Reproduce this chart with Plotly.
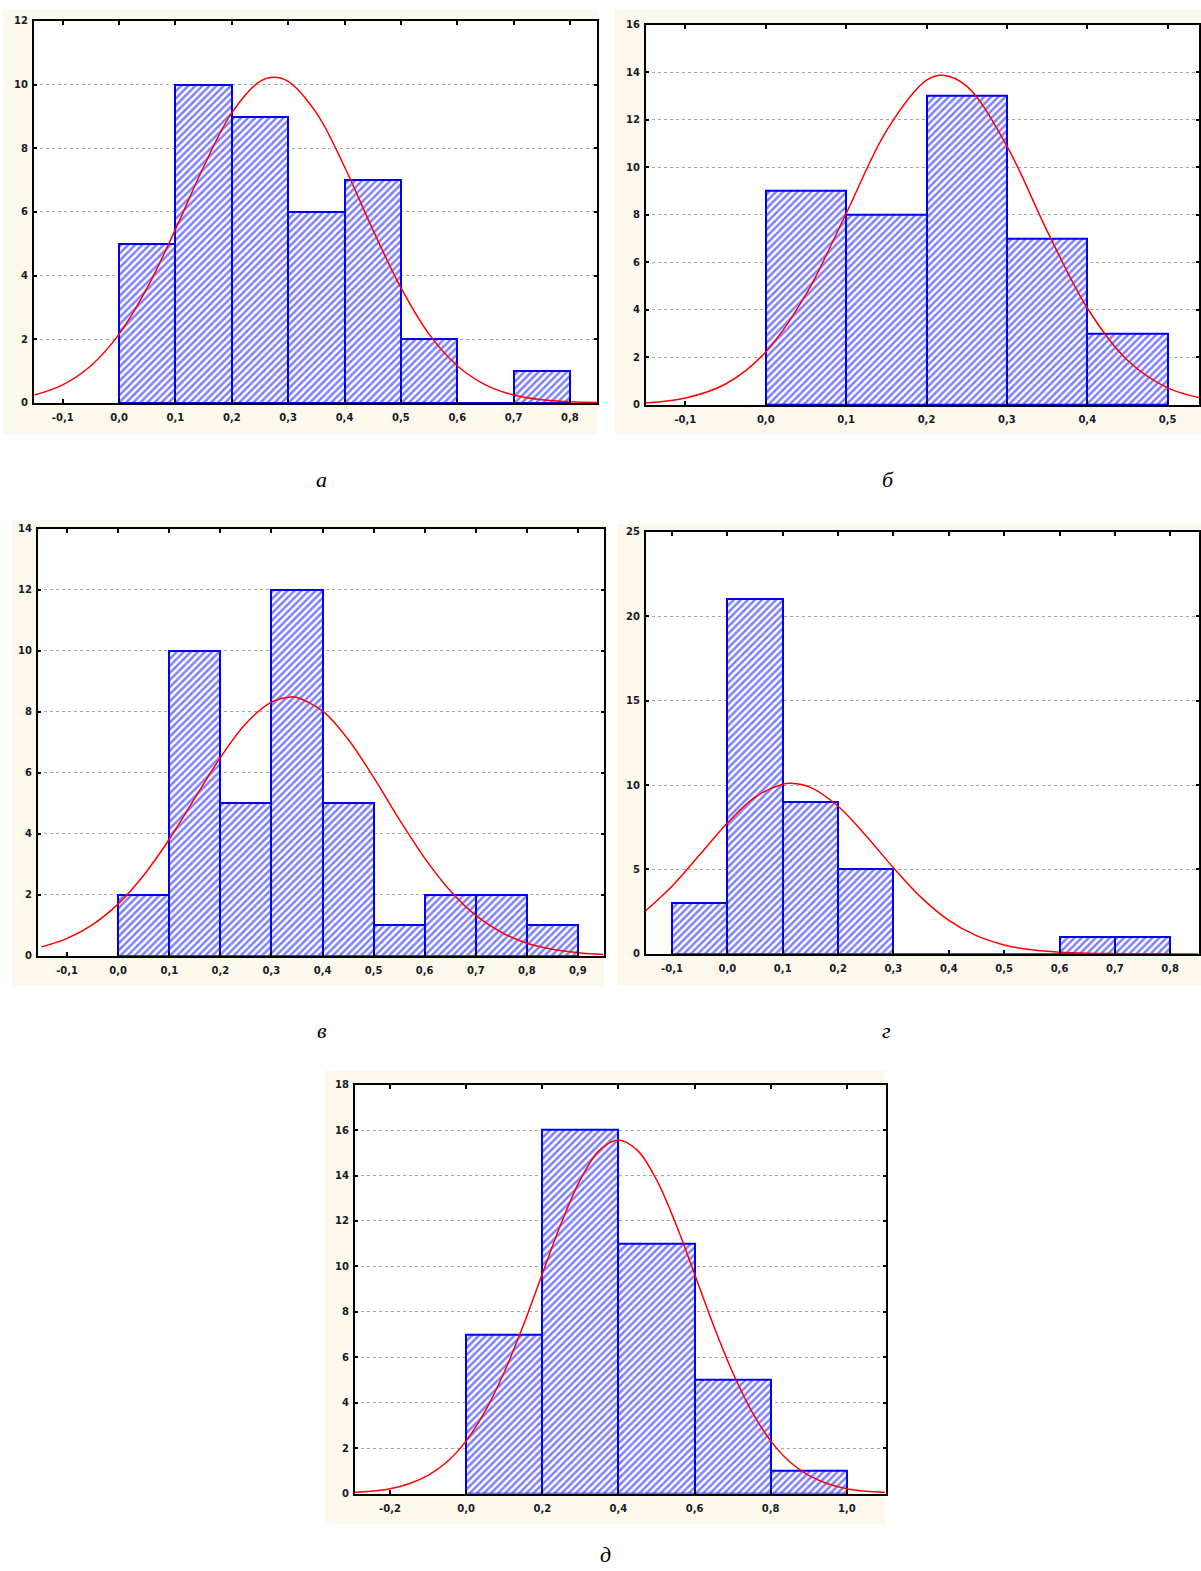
import plotly.graph_objects as go

W, H = 1201, 1571

# ---------------- data ----------------
# panel а
a_centers = [0.05, 0.15, 0.25, 0.35, 0.45, 0.55, 0.65, 0.75]
a_counts = [5, 10, 9, 6, 7, 2, 0, 1]
a_curve_x = [-0.15, -0.10, -0.05, 0.00, 0.05, 0.10, 0.15, 0.20, 0.25, 0.275, 0.30, 0.35,
             0.40, 0.45, 0.50, 0.55, 0.60, 0.65, 0.70, 0.75, 0.80, 0.85]
a_curve_y = [0.25, 0.57, 1.17, 2.16, 3.62, 5.45, 7.42, 9.11, 10.10, 10.23, 10.10, 9.11,
             7.42, 5.45, 3.62, 2.16, 1.17, 0.57, 0.25, 0.10, 0.035, 0.011]
a_xticks = [-0.1, 0.0, 0.1, 0.2, 0.3, 0.4, 0.5, 0.6, 0.7, 0.8]
a_xlabels = ["-0,1", "0,0", "0,1", "0,2", "0,3", "0,4", "0,5", "0,6", "0,7", "0,8"]
a_yticks = [0, 2, 4, 6, 8, 10, 12]

# panel б
b_centers = [0.05, 0.15, 0.25, 0.35, 0.45]
b_counts = [9, 8, 13, 7, 3]
b_curve_x = [-0.15, -0.10, -0.05, 0.00, 0.05, 0.10, 0.15, 0.20, 0.22, 0.25, 0.30, 0.35,
             0.40, 0.45, 0.50, 0.55]
b_curve_y = [0.08, 0.29, 0.88, 2.23, 4.65, 8.06, 11.53, 13.67, 13.88, 13.42, 10.90, 7.33,
             4.08, 1.88, 0.72, 0.23]
b_xticks = [-0.1, 0.0, 0.1, 0.2, 0.3, 0.4, 0.5]
b_xlabels = ["-0,1", "0,0", "0,1", "0,2", "0,3", "0,4", "0,5"]
b_yticks = [0, 2, 4, 6, 8, 10, 12, 14, 16]

# panel в
v_centers = [0.05, 0.15, 0.25, 0.35, 0.45, 0.55, 0.65, 0.75, 0.85]
v_counts = [2, 10, 5, 12, 5, 1, 2, 2, 1]
v_curve_x = [-0.15, -0.10, -0.05, 0.00, 0.05, 0.10, 0.15, 0.20, 0.25, 0.30, 0.3375, 0.35,
             0.40, 0.45, 0.50, 0.55, 0.60, 0.65, 0.70, 0.75, 0.80, 0.85, 0.90, 0.95]
v_curve_y = [0.29, 0.57, 1.02, 1.70, 2.64, 3.82, 5.17, 6.50, 7.62, 8.32, 8.49, 8.47,
             8.03, 7.10, 5.85, 4.48, 3.20, 2.13, 1.32, 0.77, 0.41, 0.21, 0.10, 0.04]
v_xticks = [-0.1, 0.0, 0.1, 0.2, 0.3, 0.4, 0.5, 0.6, 0.7, 0.8, 0.9]
v_xlabels = ["-0,1", "0,0", "0,1", "0,2", "0,3", "0,4", "0,5", "0,6", "0,7", "0,8", "0,9"]
v_yticks = [0, 2, 4, 6, 8, 10, 12, 14]

# panel г
g_centers = [-0.05, 0.05, 0.15, 0.25, 0.35, 0.45, 0.55, 0.65, 0.75]
g_counts = [3, 21, 9, 5, 0, 0, 0, 1, 1]
g_curve_x = [-0.15, -0.10, -0.05, 0.00, 0.05, 0.10, 0.115, 0.15, 0.20, 0.25, 0.30, 0.35,
             0.40, 0.45, 0.50, 0.55, 0.60, 0.65, 0.70, 0.75, 0.80, 0.85]
g_curve_y = [2.48, 4.00, 5.86, 7.75, 9.28, 10.05, 10.10, 9.86, 8.74, 7.01, 5.09, 3.34,
             1.98, 1.07, 0.52, 0.23, 0.09, 0.03, 0.01, 0.0, 0.0, 0.0]
g_xticks = [-0.1, 0.0, 0.1, 0.2, 0.3, 0.4, 0.5, 0.6, 0.7, 0.8]
g_xlabels = ["-0,1", "0,0", "0,1", "0,2", "0,3", "0,4", "0,5", "0,6", "0,7", "0,8"]
g_yticks = [0, 5, 10, 15, 20, 25]

# panel д
d_centers = [0.1, 0.3, 0.5, 0.7, 0.9]
d_counts = [7, 16, 11, 5, 1]
d_curve_x = [-0.30, -0.25, -0.20, -0.15, -0.10, -0.05, 0.00, 0.05, 0.10, 0.15, 0.20, 0.25,
             0.30, 0.35, 0.40, 0.45, 0.50, 0.55, 0.60, 0.65, 0.70, 0.75, 0.80, 0.85,
             0.90, 0.95, 1.00, 1.05, 1.10]
d_curve_y = [0.05, 0.10, 0.21, 0.43, 0.80, 1.40, 2.32, 3.63, 5.34, 7.40, 9.67, 11.91,
             13.82, 15.11, 15.57, 15.11, 13.82, 11.91, 9.67, 7.40, 5.34, 3.63, 2.32, 1.40,
             0.80, 0.43, 0.21, 0.10, 0.05]
d_xticks = [-0.2, 0.0, 0.2, 0.4, 0.6, 0.8, 1.0]
d_xlabels = ["-0,2", "0,0", "0,2", "0,4", "0,6", "0,8", "1,0"]
d_yticks = [0, 2, 4, 6, 8, 10, 12, 14, 16, 18]

panel_letters = ["а", "б", "в", "г", "д"]

# ---------------- layout geometry (pixels) ----------------
panels = [
    dict(c=a_centers, n=a_counts, w=0.1, cx=a_curve_x, cy=a_curve_y, xt=a_xticks, xl=a_xlabels,
         yt=a_yticks, xr=[-0.151, 0.848], plot=(34, 15, 597, 400), bg=(3, 3, 597, 432),
         lab=(322, 477)),
    dict(c=b_centers, n=b_counts, w=0.1, cx=b_curve_x, cy=b_curve_y, xt=b_xticks, xl=b_xlabels,
         yt=b_yticks, xr=[-0.149, 0.539], plot=(646, 19, 1199, 402), bg=(615, 3, 1201, 432),
         lab=(888, 477)),
    dict(c=v_centers, n=v_counts, w=0.1, cx=v_curve_x, cy=v_curve_y, xt=v_xticks, xl=v_xlabels,
         yt=v_yticks, xr=[-0.157, 0.951], plot=(38, 527, 604, 957), bg=(12, 518, 604, 987),
         lab=(322, 1032)),
    dict(c=g_centers, n=g_counts, w=0.1, cx=g_curve_x, cy=g_curve_y, xt=g_xticks, xl=g_xlabels,
         yt=g_yticks, xr=[-0.147, 0.852], plot=(646, 530, 1199, 955), bg=(617, 522, 1201, 987),
         lab=(886, 1032)),
    dict(c=d_centers, n=d_counts, w=0.2, cx=d_curve_x, cy=d_curve_y, xt=d_xticks, xl=d_xlabels,
         yt=d_yticks, xr=[-0.292, 1.103], plot=(355, 1087, 886, 1499), bg=(325, 1073, 886, 1530),
         lab=(605, 1560)),
]

fig = go.Figure()
shapes = []
annotations = []
tick_font = dict(family="DejaVu Sans", size=10, color="#1a1a28", weight="bold")

for i, p in enumerate(panels):
    k = "" if i == 0 else str(i + 1)
    xa, ya = "x" + k, "y" + k
    x0, y0, x1, y1 = p["plot"]
    bx0, by0, bx1, by1 = p["bg"]
    # beige panel background then white plot area
    shapes.append(dict(type="rect", xref="paper", yref="paper", layer="below",
                       x0=bx0 / W, x1=bx1 / W, y0=1 - by1 / H, y1=1 - by0 / H,
                       fillcolor="#fdf8ec", line=dict(width=0)))
    shapes.append(dict(type="rect", xref="paper", yref="paper", layer="below",
                       x0=x0 / W, x1=x1 / W, y0=1 - y1 / H, y1=1 - y0 / H,
                       fillcolor="white", line=dict(width=0)))
    fig.add_trace(go.Bar(
        x=p["c"], y=p["n"], width=p["w"], xaxis=xa, yaxis=ya,
        marker=dict(color="white",
                    line=dict(color="#0000ff", width=2),
                    pattern=dict(shape="/", fgcolor="#0000ff", bgcolor="white",
                                 size=5, solidity=0.5, fillmode="overlay")),
        showlegend=False, hoverinfo="x+y"))
    fig.add_trace(go.Scatter(
        x=p["cx"], y=p["cy"], mode="lines", xaxis=xa, yaxis=ya,
        line=dict(color="#ff0000", width=1.5, shape="spline"),
        showlegend=False))
    fig.update_layout(**{
        "xaxis" + k: dict(domain=[x0 / W, x1 / W], anchor=ya, range=p["xr"],
                          tickvals=p["xt"], ticktext=p["xl"], showgrid=False,
                          zeroline=False, showline=True, linecolor="black", linewidth=2,
                          mirror="ticks", ticks="inside", ticklen=4, tickcolor="black",
                          tickwidth=1.5, tickfont=tick_font, ticklabelstandoff=4),
        "yaxis" + k: dict(domain=[1 - y1 / H, 1 - y0 / H], anchor=xa,
                          range=[0, p["yt"][-1]], tickvals=p["yt"],
                          ticktext=[str(v) for v in p["yt"]],
                          showgrid=True, gridcolor="#a8a8a8", griddash="dot", gridwidth=1,
                          zeroline=False, showline=True, linecolor="black", linewidth=2,
                          mirror="ticks", ticks="inside", ticklen=3, tickcolor="black",
                          tickwidth=1.5, tickfont=tick_font, ticklabelstandoff=2),
    })
    lx, ly = p["lab"]
    annotations.append(dict(xref="paper", yref="paper", x=lx / W, y=1 - ly / H,
                            text="<i>" + panel_letters[i] + "</i>", showarrow=False,
                            font=dict(family="Liberation Serif", size=22, color="black"),
                            xanchor="center", yanchor="middle"))

fig.update_layout(width=W, height=H, margin=dict(l=0, r=0, t=0, b=0),
                  paper_bgcolor="white", plot_bgcolor="rgba(0,0,0,0)",
                  shapes=shapes, annotations=annotations, bargap=0)
fig.write_html("out.html")
